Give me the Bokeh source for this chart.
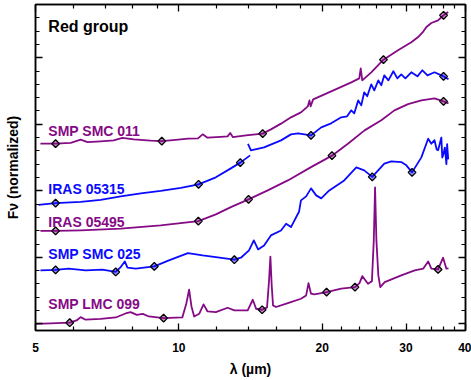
import math
from bokeh.plotting import figure
from bokeh.models import LogAxis, LinearAxis, FixedTicker, Label, BasicTickFormatter
from bokeh.embed import file_html
from bokeh.resources import INLINE

# ---------------- data (wavelength in micron, normalized + offset flux) ----------------
X_MAJOR = [5, 10, 20, 30, 40]
X_MINOR = [6, 7, 8, 9, 12, 14, 16, 18, 22, 24, 26, 28, 32, 34, 36, 38]
Y_MAJOR = [0, 1, 2, 3, 4]
Y_MINOR = [0.2, 0.4, 0.6, 0.8, 1.2, 1.4, 1.6, 1.8, 2.2, 2.4, 2.6, 2.8,
           3.2, 3.4, 3.6, 3.8, 4.2, 4.4, 4.6, 4.8]

smc011_wl = [5.12, 5.51, 5.93, 6.22, 6.43, 6.85, 7.30, 7.61, 8.04, 8.73, 9.21, 9.85, 10.45,
             10.97, 11.22, 11.49, 12.25, 12.66, 12.82, 12.98, 13.84, 15.00, 15.61, 16.39,
             17.20, 18.05, 18.66, 18.81, 18.91, 19.15, 20.89, 23.02, 23.93, 24.10, 24.28,
             25.36, 26.90, 28.86, 30.78, 31.81, 32.64, 33.11, 33.91, 35.03, 35.97, 36.79]
smc011_f = [2.708, 2.708, 2.720, 2.768, 2.732, 2.743, 2.758, 2.795, 2.773, 2.753, 2.747, 2.765,
            2.783, 2.788, 2.848, 2.798, 2.811, 2.818, 2.868, 2.808, 2.833, 2.859, 2.923, 3.009,
            3.104, 3.179, 3.269, 3.359, 3.269, 3.374, 3.495, 3.630, 3.690, 3.840, 3.660,
            3.780, 3.971, 4.111, 4.232, 4.311, 4.397, 4.462, 4.522, 4.562, 4.638, 4.687]

iras05315_wl_a = [5.07, 5.51, 6.22, 6.85, 7.55, 8.32, 9.16, 10.10, 11.00, 11.96, 12.86, 13.46, 14.12]
iras05315_f_a = [1.788, 1.815, 1.833, 1.863, 1.916, 1.961, 1.998, 2.044, 2.096, 2.202, 2.337, 2.423, 2.532]
iras05315_wl_b = [13.97, 14.17, 15.10, 16.39, 17.20, 17.80, 18.95, 19.91, 20.89, 21.93, 22.57,
                  23.02, 23.36, 23.81, 24.16, 24.51, 24.87, 25.36, 25.73, 26.24, 26.62, 27.01,
                  27.55, 28.22, 28.77, 29.32, 29.91, 30.78, 31.70, 32.47, 33.28, 34.43, 35.97, 36.84]
iras05315_f_b = [2.705, 2.608, 2.653, 2.758, 2.848, 2.863, 2.833, 2.953, 3.014, 3.104, 3.119,
                 3.209, 3.164, 3.359, 3.284, 3.480, 3.420, 3.600, 3.510, 3.660, 3.585, 3.735,
                 3.660, 3.796, 3.690, 3.750, 3.690, 3.781, 3.720, 3.811, 3.735, 3.781, 3.720, 3.675]

iras05495_wl = [5.12, 5.51, 6.22, 7.55, 9.16, 10.99, 11.96, 12.86, 14.01, 15.37, 16.94, 18.95,
                20.97, 22.65, 24.55, 26.62, 28.36, 30.30, 32.31, 34.43, 35.97, 36.84]
iras05495_f = [1.397, 1.397, 1.405, 1.430, 1.480, 1.544, 1.645, 1.755, 1.871, 2.006, 2.156, 2.356,
               2.528, 2.708, 2.908, 3.059, 3.209, 3.302, 3.359, 3.389, 3.344, 3.314]

smc025_wl = [5.12, 5.51, 5.87, 6.37, 6.91, 7.37, 7.55, 7.70, 7.80, 8.12, 8.88, 9.53, 10.45, 11.22,
             11.96, 13.08, 13.50, 14.04, 14.37, 14.67, 15.10, 15.61, 16.39, 16.80, 17.20, 17.89,
             18.05, 18.51, 18.95, 19.43, 19.91, 20.70, 22.25, 23.59, 24.51, 25.48, 27.01, 27.94,
             29.32, 30.05, 30.89, 32.31, 33.39, 33.91, 34.43, 34.80, 35.03, 35.30, 35.59, 35.75,
             35.89, 36.20, 36.47, 36.60, 36.79]
smc025_f = [0.803, 0.811, 0.829, 0.803, 0.814, 0.780, 0.853, 0.938, 0.844, 0.829, 0.863, 0.953,
            1.063, 1.029, 1.003, 0.964, 0.994, 1.104, 1.254, 1.119, 1.179, 1.329, 1.404, 1.505,
            1.454, 1.689, 1.856, 1.916, 2.036, 1.931, 1.886, 2.006, 2.156, 2.352, 2.307, 2.209,
            2.408, 2.442, 2.432, 2.382, 2.277, 2.502, 2.783, 2.708, 2.760, 2.620, 2.608, 2.700,
            2.800, 2.500, 2.532, 2.650, 2.400, 2.700, 2.472]

lmc099_wl = [5.00, 5.38, 5.90, 6.10, 6.22, 6.37, 6.85, 7.37, 7.73, 7.92, 8.16, 8.40, 8.65, 9.29,
             10.17, 10.37, 10.51, 10.63, 10.77, 11.04, 11.27, 11.49, 11.96, 12.66, 13.08, 13.95,
             14.30, 14.53, 14.96, 15.32, 15.47, 15.57, 15.67, 15.77, 16.00, 16.94, 18.05, 18.51,
             18.72, 18.95, 19.27, 20.43, 21.93, 23.44, 23.96, 24.28, 24.96, 25.44, 25.67, 25.83,
             26.00, 26.24, 26.49, 27.06, 29.32, 31.29, 32.59, 33.39, 33.91, 35.03, 35.89, 36.47, 36.84]
lmc099_f = [0.000, 0.006, 0.017, 0.051, 0.101, 0.062, 0.074, 0.096, 0.156, 0.176, 0.134, 0.149,
            0.111, 0.086, 0.096, 0.307, 0.513, 0.262, 0.111, 0.152, 0.292, 0.186, 0.176, 0.242,
            0.202, 0.202, 0.362, 0.227, 0.212, 0.247, 0.653, 1.010, 0.577, 0.277, 0.253, 0.311,
            0.377, 0.427, 0.612, 0.453, 0.442, 0.477, 0.528, 0.552, 0.612, 0.717, 0.603, 0.642,
            1.254, 2.051, 1.254, 0.728, 0.552, 0.627, 0.728, 0.803, 0.829, 0.938, 0.829, 0.818,
            0.994, 0.829, 0.833]

# photometric points (diamonds)
smc011_pt_wl = [5.51, 9.21, 15.0, 26.9, 35.97]
smc011_pt_f = [2.708, 2.747, 2.859, 3.971, 4.638]
iras05315_pt_wl = [5.51, 11.00, 13.46, 18.95, 35.97]
iras05315_pt_f = [1.815, 2.096, 2.423, 2.833, 3.720]
iras05495_pt_wl = [5.51, 10.99, 14.01, 20.97, 35.97]
iras05495_pt_f = [1.397, 1.544, 1.871, 2.528, 3.344]
smc025_pt_wl = [5.51, 7.37, 8.88, 13.08, 25.48, 30.89]
smc025_pt_f = [0.811, 0.780, 0.863, 0.964, 2.209, 2.277]
lmc099_pt_wl = [5.90, 9.29, 14.96, 20.43, 23.44, 35.03]
lmc099_pt_f = [0.017, 0.086, 0.212, 0.477, 0.552, 0.818]

names = ["SMP SMC 011", "IRAS 05315", "IRAS 05495", "SMP SMC 025", "SMP LMC 099"]
title_text = "Red group"
x_title = "\u03bb (\u00b5m)"
y_title = "F\u03bd (normalized)"

# ---------------- styling / layout ----------------
PURPLE = "#850a85"
BLUE = "#0a0aff"
FONT = "Liberation Sans"
XMIN, XMAX = 5, 40
YMIN, YMAX = -0.1, 4.8
W, H = 471, 380
BL, BR, BT, BB = 35, 6, 4, 50

p = figure(width=W, height=H, x_axis_type="log", x_range=(XMIN, XMAX), y_range=(YMIN, YMAX),
           output_backend="svg", toolbar_location=None,
           min_border_left=BL, min_border_right=BR, min_border_top=BT, min_border_bottom=BB)
p.grid.visible = False
p.outline_line_color = "black"
p.outline_line_width = 1.5
p.background_fill_color = "white"
p.border_fill_color = "white"

xt = FixedTicker(ticks=X_MAJOR, minor_ticks=X_MINOR)
yt = FixedTicker(ticks=Y_MAJOR, minor_ticks=Y_MINOR)


def style(ax, labels=False):
    ax.axis_line_width = 1.5
    ax.axis_line_color = "black"
    ax.major_tick_in = 7
    ax.major_tick_out = 0
    ax.minor_tick_in = 4
    ax.minor_tick_out = 0
    ax.major_tick_line_width = 1.3
    ax.minor_tick_line_width = 1.2
    ax.major_tick_line_color = "black"
    ax.minor_tick_line_color = "black"
    ax.major_label_text_font = FONT
    ax.major_label_text_font_style = "bold"
    ax.major_label_text_color = "black"
    if labels:
        ax.major_label_text_font_size = "12px"
        ax.major_label_standoff = 12
    else:
        # tick labels present but not shown (as in the reference: no tick numbers)
        ax.major_label_text_font_size = "0px"
        ax.major_label_standoff = 0


xa = p.xaxis[0]
xa.ticker = xt
xa.formatter = BasicTickFormatter()
xa.major_label_overrides = {v: str(v) for v in X_MAJOR}
style(xa, labels=True)
xa.axis_label = x_title
xa.axis_label_text_font = FONT
xa.axis_label_text_font_style = "bold"
xa.axis_label_text_font_size = "14px"
xa.axis_label_text_color = "black"
xa.axis_label_standoff = 6

ya = p.yaxis[0]
ya.ticker = yt
style(ya)
ya.axis_label = y_title
ya.axis_label_text_font = FONT
ya.axis_label_text_font_style = "bold"
ya.axis_label_text_font_size = "14px"
ya.axis_label_text_color = "black"
ya.axis_label_standoff = 15

top = LogAxis(ticker=xt)
style(top)
p.add_layout(top, "above")
right = LinearAxis(ticker=yt)
style(right)
p.add_layout(right, "right")

LW = 1.8
series = [
    ([(smc011_wl, smc011_f)], smc011_pt_wl, smc011_pt_f, PURPLE),
    ([(iras05315_wl_a, iras05315_f_a), (iras05315_wl_b, iras05315_f_b)], iras05315_pt_wl, iras05315_pt_f, BLUE),
    ([(iras05495_wl, iras05495_f)], iras05495_pt_wl, iras05495_pt_f, PURPLE),
    ([(smc025_wl, smc025_f)], smc025_pt_wl, smc025_pt_f, BLUE),
    ([(lmc099_wl, lmc099_f)], lmc099_pt_wl, lmc099_pt_f, PURPLE),
]
for segs, pw, pf, col in series:
    for sw, sf in segs:
        p.line(sw, sf, line_color=col, line_width=LW, line_join="round")
for segs, pw, pf, col in series:
    p.scatter(pw, pf, marker="square", angle=math.pi / 4, size=5.5,
              fill_color=col, fill_alpha=0.45, line_color="black", line_width=1.3)

# spectrum labels (left edge / baseline)
label_wl = 5.32
label_base = [2.893, 2.032, 1.529, 1.044, 0.292]
for name, yb, col in zip(names, label_base, [PURPLE, BLUE, PURPLE, BLUE, PURPLE]):
    p.add_layout(Label(x=label_wl, y=yb, text=name, text_color=col, text_font=FONT,
                       text_font_style="bold", text_font_size="14px",
                       text_baseline="alphabetic", text_align="left"))

p.add_layout(Label(x=label_wl, y=4.462, text=title_text, text_color="black", text_font=FONT,
                   text_font_style="bold", text_font_size="16px",
                   text_baseline="alphabetic", text_align="left"))

open("out.html", "w").write(file_html(p, INLINE))
